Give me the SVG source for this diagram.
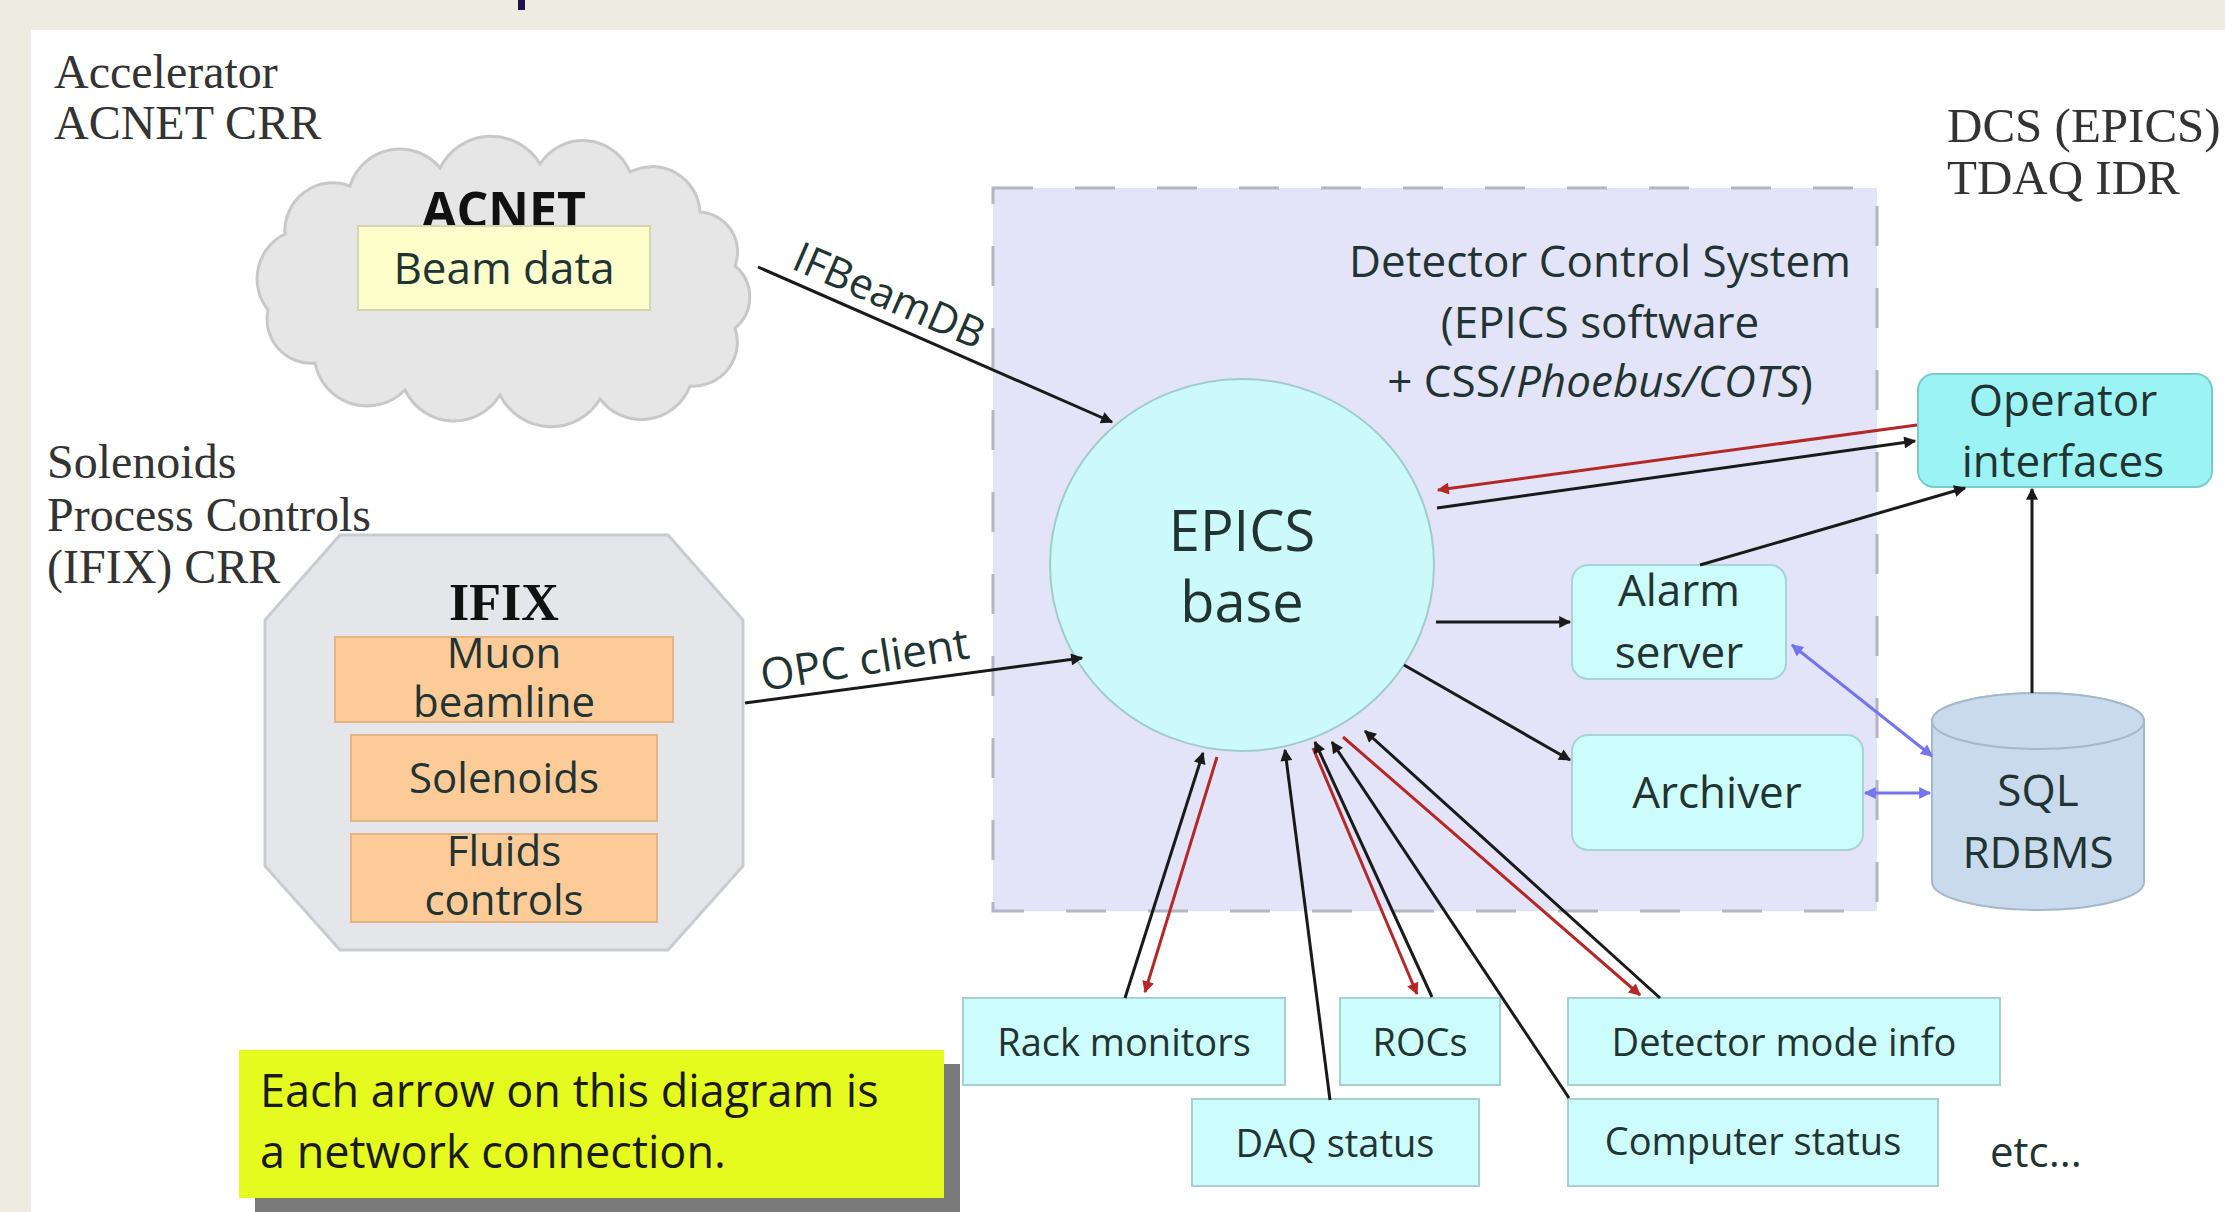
<svg xmlns="http://www.w3.org/2000/svg" width="2225" height="1212" viewBox="0 0 2225 1212">
<style>
.sans{font-family:"Open Sans","Noto Sans","DejaVu Sans",sans-serif;fill:#223333}
.serif{font-family:"Liberation Serif","Times New Roman",serif;fill:#333;font-size:48px}
.serifr{font-family:"Liberation Serif","Times New Roman",serif;fill:#333;font-size:49px}
.box{fill:#CCFCFC;stroke:#A8D0D0;stroke-width:2}
.rbox{fill:#CCFCFC;stroke:#A8D4D4;stroke-width:2}
.orange{fill:#FDCB98;stroke:#E2B486;stroke-width:2}
.blk{stroke:#1a1a1a;stroke-width:3;fill:none}
.red{stroke:#B42828;stroke-width:3;fill:none}
.blue{stroke:#7474EE;stroke-width:3;fill:none}
</style>
<defs>
<marker id="ah" viewBox="0 0 10 10" refX="9" refY="5" markerWidth="5" markerHeight="4" orient="auto"><path d="M0,0L10,5L0,10z" fill="#1a1a1a"/></marker>
<marker id="ahr" viewBox="0 0 10 10" refX="9" refY="5" markerWidth="5" markerHeight="4" orient="auto"><path d="M0,0L10,5L0,10z" fill="#B42828"/></marker>
<marker id="ahb" viewBox="0 0 10 10" refX="9" refY="5" markerWidth="5" markerHeight="4" orient="auto-start-reverse"><path d="M0,0L10,5L0,10z" fill="#7474EE"/></marker>
</defs>

<rect x="0" y="0" width="2225" height="1212" fill="#EEECE1"/>
<rect x="31" y="30" width="2194" height="1182" fill="#FFFFFF"/>
<rect x="518" y="0" width="7" height="10" fill="#20124D"/>

<g id="labels">
<text class="serif" x="54" y="88">Accelerator</text>
<text class="serif" x="54" y="139">ACNET CRR</text>
<text class="serifr" x="1947" y="142">DCS (EPICS)</text>
<text class="serifr" x="1947" y="194">TDAQ IDR</text>
<text class="serif" x="47" y="478">Solenoids</text>
<text class="serif" x="47" y="531">Process Controls</text>
<text class="serif" x="47" y="583">(IFIX) CRR</text>
</g>

<g id="dcs">
<rect x="993" y="188" width="884" height="723" fill="#E4E4F8" stroke="#B4B4C4" stroke-width="3" stroke-dasharray="40 42"/>
<text class="sans" font-size="44" text-anchor="middle" x="1600" y="277">Detector Control System</text>
<text class="sans" font-size="44" text-anchor="middle" x="1600" y="338">(EPICS software</text>
<text class="sans" font-size="44" text-anchor="middle" x="1600" y="397">+ CSS/<tspan font-style="italic">Phoebus/COTS</tspan>)</text>
</g>

<g id="acnet">
<path d="M268,310 A50,50 0 0 1 285,234 A48,48 0 0 1 350,186 A52,52 0 0 1 440,168 A57,57 0 0 1 540,164 A51,51 0 0 1 630,172 A48,48 0 0 1 700,212 A40,40 0 0 1 735,266 A40,40 0 0 1 735,328 A44,44 0 0 1 690,386 A52,52 0 0 1 600,399 A57,57 0 0 1 500,395 A54,54 0 0 1 405,390 A53,53 0 0 1 315,363 A44,44 0 0 1 268,310 Z" fill="#E6E6E6" stroke="#C8C8C8" stroke-width="3"/>
<text class="sans" font-size="50" font-weight="bold" text-anchor="middle" x="504" y="228" style="fill:#111">ACNET</text>
<rect x="358" y="226" width="292" height="84" fill="#FFFFCC" stroke="#D6D6B0" stroke-width="2"/>
<text class="sans" font-size="44" text-anchor="middle" x="504" y="284">Beam data</text>
</g>

<g id="ifix">
<polygon points="340,535 668,535 743,620 743,866 668,950 340,950 265,866 265,620" fill="#E4E6EA" stroke="#C8CBD0" stroke-width="3"/>
<text font-family="Liberation Serif, serif" font-weight="bold" font-size="52" text-anchor="middle" x="504" y="620" fill="#111">IFIX</text>
</g>
<g id="muon">
<rect class="orange" x="335" y="637" width="338" height="85"/>
<text class="sans" font-size="42" text-anchor="middle" x="504" y="668">Muon</text>
<text class="sans" font-size="42" text-anchor="middle" x="504" y="717">beamline</text>
</g>
<g id="solenoids">
<rect class="orange" x="351" y="735" width="306" height="86"/>
<text class="sans" font-size="42" text-anchor="middle" x="504" y="793">Solenoids</text>
</g>
<g id="fluids">
<rect class="orange" x="351" y="834" width="306" height="88"/>
<text class="sans" font-size="42" text-anchor="middle" x="504" y="866">Fluids</text>
<text class="sans" font-size="42" text-anchor="middle" x="504" y="915">controls</text>
</g>

<g id="epics">
<ellipse cx="1242" cy="565" rx="192" ry="186" fill="#CCFAFA" stroke="#A0CCCC" stroke-width="2"/>
<text class="sans" font-size="56" text-anchor="middle" x="1242" y="551">EPICS</text>
<text class="sans" font-size="56" text-anchor="middle" x="1242" y="622">base</text>
</g>

<g id="operator">
<rect x="1918" y="374" width="294" height="113" rx="16" fill="#9CF3F3" stroke="#7ACCCC" stroke-width="2"/>
<text class="sans" font-size="44" text-anchor="middle" x="2063" y="416">Operator</text>
<text class="sans" font-size="44" text-anchor="middle" x="2063" y="477">interfaces</text>
</g>
<g id="alarm">
<rect class="rbox" x="1572" y="565" width="214" height="114" rx="16"/>
<text class="sans" font-size="44" text-anchor="middle" x="1679" y="606">Alarm</text>
<text class="sans" font-size="44" text-anchor="middle" x="1679" y="668">server</text>
</g>
<g id="archiver">
<rect class="rbox" x="1572" y="735" width="291" height="115" rx="16"/>
<text class="sans" font-size="44" text-anchor="middle" x="1717" y="808">Archiver</text>
</g>
<g id="sql">
<path d="M1932,721 A106,28 0 0 1 2144,721 L2144,882 A106,28 0 0 1 1932,882 Z" fill="#C8DAEC" stroke="#A4B8CC" stroke-width="2"/>
<ellipse cx="2038" cy="721" rx="106" ry="28" fill="#C8DAEC" stroke="#A4B8CC" stroke-width="2"/>
<text class="sans" font-size="44" text-anchor="middle" x="2038" y="806">SQL</text>
<text class="sans" font-size="44" text-anchor="middle" x="2038" y="868">RDBMS</text>
</g>

<g id="rack"><rect class="box" x="963" y="998" width="322" height="87"/><text class="sans" font-size="38" text-anchor="middle" x="1124" y="1056">Rack monitors</text></g>
<g id="rocs"><rect class="box" x="1340" y="998" width="160" height="87"/><text class="sans" font-size="38" text-anchor="middle" x="1420" y="1056">ROCs</text></g>
<g id="detector"><rect class="box" x="1568" y="998" width="432" height="87"/><text class="sans" font-size="38" text-anchor="middle" x="1784" y="1056">Detector mode info</text></g>
<g id="daq"><rect class="box" x="1192" y="1099" width="287" height="87"/><text class="sans" font-size="38" text-anchor="middle" x="1335" y="1157">DAQ status</text></g>
<g id="computer"><rect class="box" x="1568" y="1099" width="370" height="87"/><text class="sans" font-size="38" text-anchor="middle" x="1753" y="1155">Computer status</text></g>
<g id="etc"><text class="sans" font-size="42" x="1990" y="1167">etc...</text></g>

<g id="note">
<rect x="255" y="1064" width="705" height="148" fill="#7A7A7A"/>
<rect x="239" y="1050" width="705" height="148" fill="#E5FA1E"/>
<text class="sans" font-size="45" x="260" y="1107" style="fill:#1a1a1a">Each arrow on this diagram is</text>
<text class="sans" font-size="45" x="260" y="1168" style="fill:#1a1a1a">a network connection.</text>
</g>

<g id="connectors">
<line class="blk" x1="758" y1="267" x2="1112" y2="422" marker-end="url(#ah)"/>
<text class="sans" font-size="42" x="790" y="268" transform="rotate(23.6 790 268)">IFBeamDB</text>
<line class="blk" x1="745" y1="703" x2="1082" y2="658" marker-end="url(#ah)"/>
<text class="sans" font-size="44" x="763" y="691" transform="rotate(-9 763 691)">OPC client</text>
<line class="red" x1="1917" y1="425" x2="1438" y2="490" marker-end="url(#ahr)"/>
<line class="blk" x1="1437" y1="508" x2="1915" y2="441" marker-end="url(#ah)"/>
<line class="blk" x1="1436" y1="622" x2="1570" y2="622" marker-end="url(#ah)"/>
<line class="blk" x1="1700" y1="565" x2="1965" y2="488" marker-end="url(#ah)"/>
<line class="blk" x1="2032" y1="693" x2="2032" y2="489" marker-end="url(#ah)"/>
<line class="blk" x1="1404" y1="665" x2="1570" y2="760" marker-end="url(#ah)"/>
<line class="blue" x1="1792" y1="645" x2="1932" y2="756" marker-start="url(#ahb)" marker-end="url(#ahb)"/>
<line class="blue" x1="1865" y1="793" x2="1930" y2="793" marker-start="url(#ahb)" marker-end="url(#ahb)"/>
<line class="blk" x1="1125" y1="998" x2="1203" y2="753" marker-end="url(#ah)"/>
<line class="red" x1="1217" y1="757" x2="1145" y2="992" marker-end="url(#ahr)"/>
<line class="blk" x1="1330" y1="1100" x2="1285" y2="750" marker-end="url(#ah)"/>
<line class="red" x1="1313" y1="748" x2="1417" y2="994" marker-end="url(#ahr)"/>
<line class="blk" x1="1432" y1="997" x2="1315" y2="742" marker-end="url(#ah)"/>
<line class="blk" x1="1569" y1="1098" x2="1332" y2="742" marker-end="url(#ah)"/>
<line class="red" x1="1343" y1="737" x2="1640" y2="995" marker-end="url(#ahr)"/>
<line class="blk" x1="1660" y1="998" x2="1365" y2="731" marker-end="url(#ah)"/>
</g>
</svg>
